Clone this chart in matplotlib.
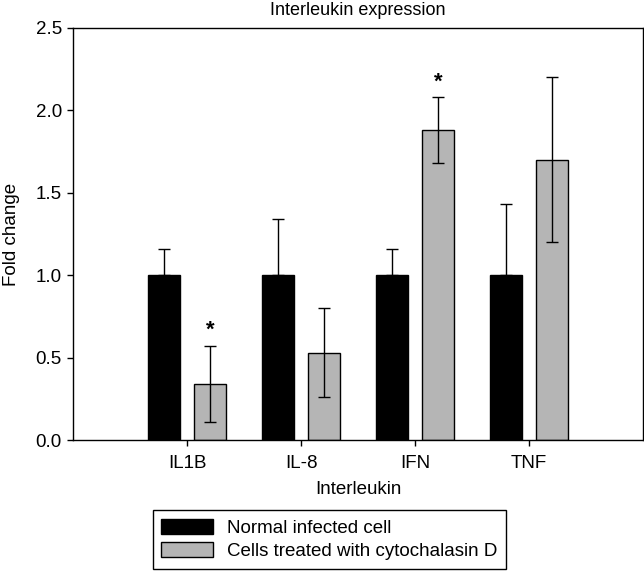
import matplotlib
matplotlib.use('Agg')
import matplotlib.pyplot as plt
import numpy as np

plt.rcParams['font.family'] = ['Liberation Sans', 'DejaVu Sans']

# Data
categories = ['IL1B', 'IL-8', 'IFN', 'TNF']
normal = [1.0, 1.0, 1.0, 1.0]
normal_err = [0.16, 0.34, 0.16, 0.43]
treated = [0.34, 0.53, 1.88, 1.70]
treated_err = [0.23, 0.27, 0.20, 0.50]
significant = [True, False, True, False]

# Figure
fig = plt.figure(figsize=(6.44, 5.71), dpi=100)
ax = fig.add_axes([0.1134, 0.2294, 0.8851, 0.7216])

x = np.arange(1, len(categories) + 1)
width = 0.277
off = 0.2

ax.bar(x - off, normal, width, color='black', edgecolor='black', linewidth=1,
       yerr=[np.zeros(len(normal)), normal_err], ecolor='black',
       error_kw=dict(capsize=4, elinewidth=1, capthick=1),
       label='Normal infected cell')
ax.bar(x + off, treated, width, color='#b5b5b5', edgecolor='black', linewidth=1,
       yerr=treated_err, ecolor='black',
       error_kw=dict(capsize=4, elinewidth=1, capthick=1),
       label='Cells treated with cytochalasin D')

# Significance marks
for i, s in enumerate(significant):
    if s:
        ax.text(x[i] + off, treated[i] + treated_err[i] + 0.03, '*',
                ha='center', va='bottom', fontsize=16, fontweight='bold')

ax.set_xlim(0, 5)
ax.set_ylim(0, 2.5)
ax.set_xticks(x)
ax.set_xticklabels(categories)
ax.set_yticks(np.arange(0, 2.51, 0.5))
ax.set_yticklabels(['%.1f' % v for v in np.arange(0, 2.51, 0.5)])
ax.tick_params(axis='both', direction='out', length=4.5, width=1, labelsize=13.5)
ax.tick_params(axis='x', pad=6.5)

ax.set_title('Interleukin expression', fontsize=13, pad=9)
ax.set_xlabel('Interleukin', fontsize=13.5, labelpad=6)
ax.set_ylabel('Fold change', fontsize=13.5, labelpad=11)

for sp in ax.spines.values():
    sp.set_linewidth(1)

leg = fig.legend(loc='center', bbox_to_anchor=(0.5116, 0.0552), fontsize=13.5,
                 fancybox=False, edgecolor='black', framealpha=1,
                 handlelength=2.77, handleheight=0.85, borderpad=0.45,
                 labelspacing=0.3, handletextpad=0.75)
leg.get_frame().set_linewidth(1)

fig.savefig('out.png', dpi=100)
